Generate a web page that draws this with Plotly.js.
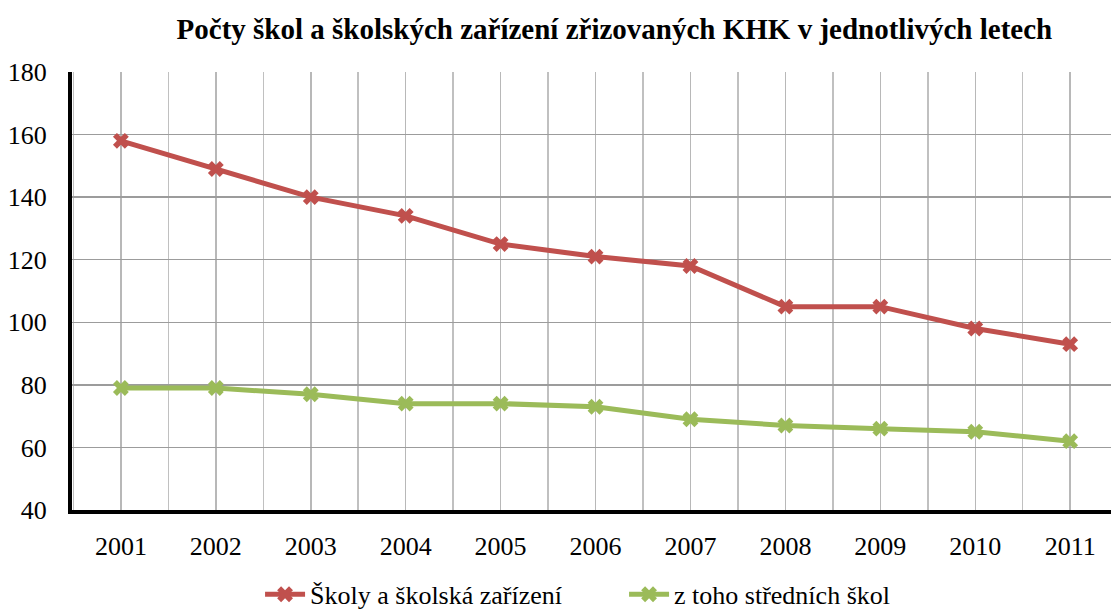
<!DOCTYPE html>
<html><head><meta charset="utf-8">
<script src="https://cdn.plot.ly/plotly-3.0.1.min.js"></script>
<style>html,body{margin:0;padding:0;background:#fff}#chart{width:1111px;height:609px}</style>
</head><body><div id="chart"></div>
<script>
const years = [2001, 2002, 2003, 2004, 2005, 2006, 2007, 2008, 2009, 2010, 2011];
const skoly = [158, 149, 140, 134, 125, 121, 118, 105, 105, 98, 93];
const stredni = [79, 79, 77, 74, 74, 73, 69, 67, 66, 65, 62];
const seriesNames = ["Školy a školská zařízení", "z toho středních škol"];
const titleText = "Počty škol a školských zařízení zřizovaných KHK v jednotlivých letech";

const font = "Liberation Serif";
const traces = [
  {x: years, y: skoly, name: seriesNames[0], mode: 'lines+markers',
   line: {color: '#C0504D', width: 5}, marker: {symbol: 'x', size: 14, color: '#C0504D'}},
  {x: years, y: stredni, name: seriesNames[1], mode: 'lines+markers',
   line: {color: '#9BBB59', width: 5}, marker: {symbol: 'x', size: 14, color: '#9BBB59'}}
];
const layout = {
  width: 1111, height: 609,
  margin: {l: 72, r: 0, t: 72, b: 99},
  paper_bgcolor: '#fff', plot_bgcolor: '#fff',
  font: {family: font, size: 26, color: '#000'},
  title: {text: '<b>' + titleText + '</b>', font: {family: font, size: 29, color: '#000'},
          x: 0.553, xanchor: 'center', y: 0.952, yanchor: 'middle'},
  xaxis: {range: [2000.485, 2011.43], tickvals: years, ticktext: years.map(String),
          showgrid: true, gridcolor: '#b8b8b8', gridwidth: 1.5,
          minor: {dtick: 0.5, tick0: 2000.5, showgrid: true, gridcolor: '#c0c0c0', gridwidth: 1.5},
          showline: true, linecolor: '#000', linewidth: 4, ticks: '', zeroline: false,
          tickfont: {family: font, size: 26}, ticklabelstandoff: 10, fixedrange: true},
  yaxis: {range: [40, 180], dtick: 20, showgrid: true, gridcolor: '#9c9c9c', gridwidth: 1.5,
          showline: true, linecolor: '#000', linewidth: 4, ticks: '', zeroline: false,
          tickfont: {family: font, size: 26}, ticklabelstandoff: 16, fixedrange: true},
  showlegend: true,
  legend: {orientation: 'h', x: 0.181, xanchor: 'left', yref: 'container', y: 0.024, yanchor: 'middle',
           font: {family: font, size: 26}, itemwidth: 40, entrywidth: 309, entrywidthmode: 'pixels',
           tracegroupgap: 0}
};
Plotly.newPlot('chart', traces, layout, {displayModeBar: false, staticPlot: true});
</script></body></html>
